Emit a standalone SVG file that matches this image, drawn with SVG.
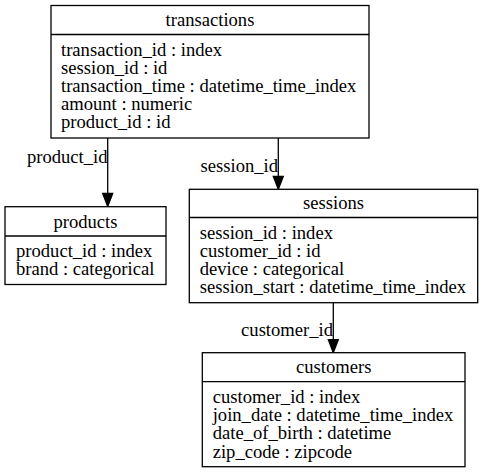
<svg xmlns="http://www.w3.org/2000/svg" width="483" height="473" viewBox="0 0 483 473">
<style>
  .box { fill: #fff; stroke: #000; stroke-width: 1.3; }
  .div { stroke: #000; stroke-width: 1.3; }
  text { font-family: "Liberation Serif", "Times New Roman", serif; font-size: 18.6px; fill: #000; }
  .title { text-anchor: middle; }
  .lbl { text-anchor: end; }
  .edge { stroke: #000; stroke-width: 1.3; fill: none; }
  .head { fill: #000; stroke: #000; stroke-width: 1.3; }
</style>
<rect width="483" height="473" fill="#fff"/>
<g id="connectors">
  <g id="e-transactions-products">
    <line class="edge" x1="107.7" y1="138" x2="107.7" y2="194"/>
    <polygon class="head" points="102.7,193.5 112.7,193.5 107.7,206.5"/>
    <text class="lbl" x="107.5" y="163">product_id</text>
  </g>
  <g id="e-transactions-sessions">
    <line class="edge" x1="278.3" y1="138" x2="278.3" y2="177"/>
    <polygon class="head" points="273.3,176.3 283.3,176.3 278.3,189.3"/>
    <text class="lbl" x="278" y="172">session_id</text>
  </g>
  <g id="e-sessions-customers">
    <line class="edge" x1="333.3" y1="302.7" x2="333.3" y2="340"/>
    <polygon class="head" points="328.3,339.7 338.3,339.7 333.3,352.7"/>
    <text class="lbl" x="333" y="335.7">customer_id</text>
  </g>
</g>
<g id="transactions">
  <rect class="box" x="51" y="5.5" width="318" height="132.5"/>
  <line class="div" x1="51" y1="34.5" x2="369" y2="34.5"/>
  <text class="title" x="210" y="26">transactions</text>
  <text x="61" y="55.5">transaction_id : index</text>
  <text x="61" y="73.7">session_id : id</text>
  <text x="61" y="91.9">transaction_time : datetime_time_index</text>
  <text x="61" y="110.1">amount : numeric</text>
  <text x="61" y="128.3">product_id : id</text>
</g>
<g id="products">
  <rect class="box" x="5" y="206.7" width="161" height="77.8"/>
  <line class="div" x1="5" y1="236" x2="166" y2="236"/>
  <text class="title" x="85.5" y="227.7">products</text>
  <text x="16" y="257.2">product_id : index</text>
  <text x="16" y="275.4">brand : categorical</text>
</g>
<g id="sessions">
  <rect class="box" x="189.3" y="189.3" width="288.4" height="113.4"/>
  <line class="div" x1="189.3" y1="217.5" x2="477.7" y2="217.5"/>
  <text class="title" x="333.5" y="209">sessions</text>
  <text x="199.7" y="238.5">session_id : index</text>
  <text x="199.7" y="256.7">customer_id : id</text>
  <text x="199.7" y="274.9">device : categorical</text>
  <text x="199.7" y="293.1">session_start : datetime_time_index</text>
</g>
<g id="customers">
  <rect class="box" x="202.3" y="352.7" width="262.7" height="114"/>
  <line class="div" x1="202.3" y1="381.7" x2="465" y2="381.7"/>
  <text class="title" x="333.7" y="373.4">customers</text>
  <text x="212.7" y="402.9">customer_id : index</text>
  <text x="212.7" y="421.1">join_date : datetime_time_index</text>
  <text x="212.7" y="439.3">date_of_birth : datetime</text>
  <text x="212.7" y="457.5">zip_code : zipcode</text>
</g>
</svg>
